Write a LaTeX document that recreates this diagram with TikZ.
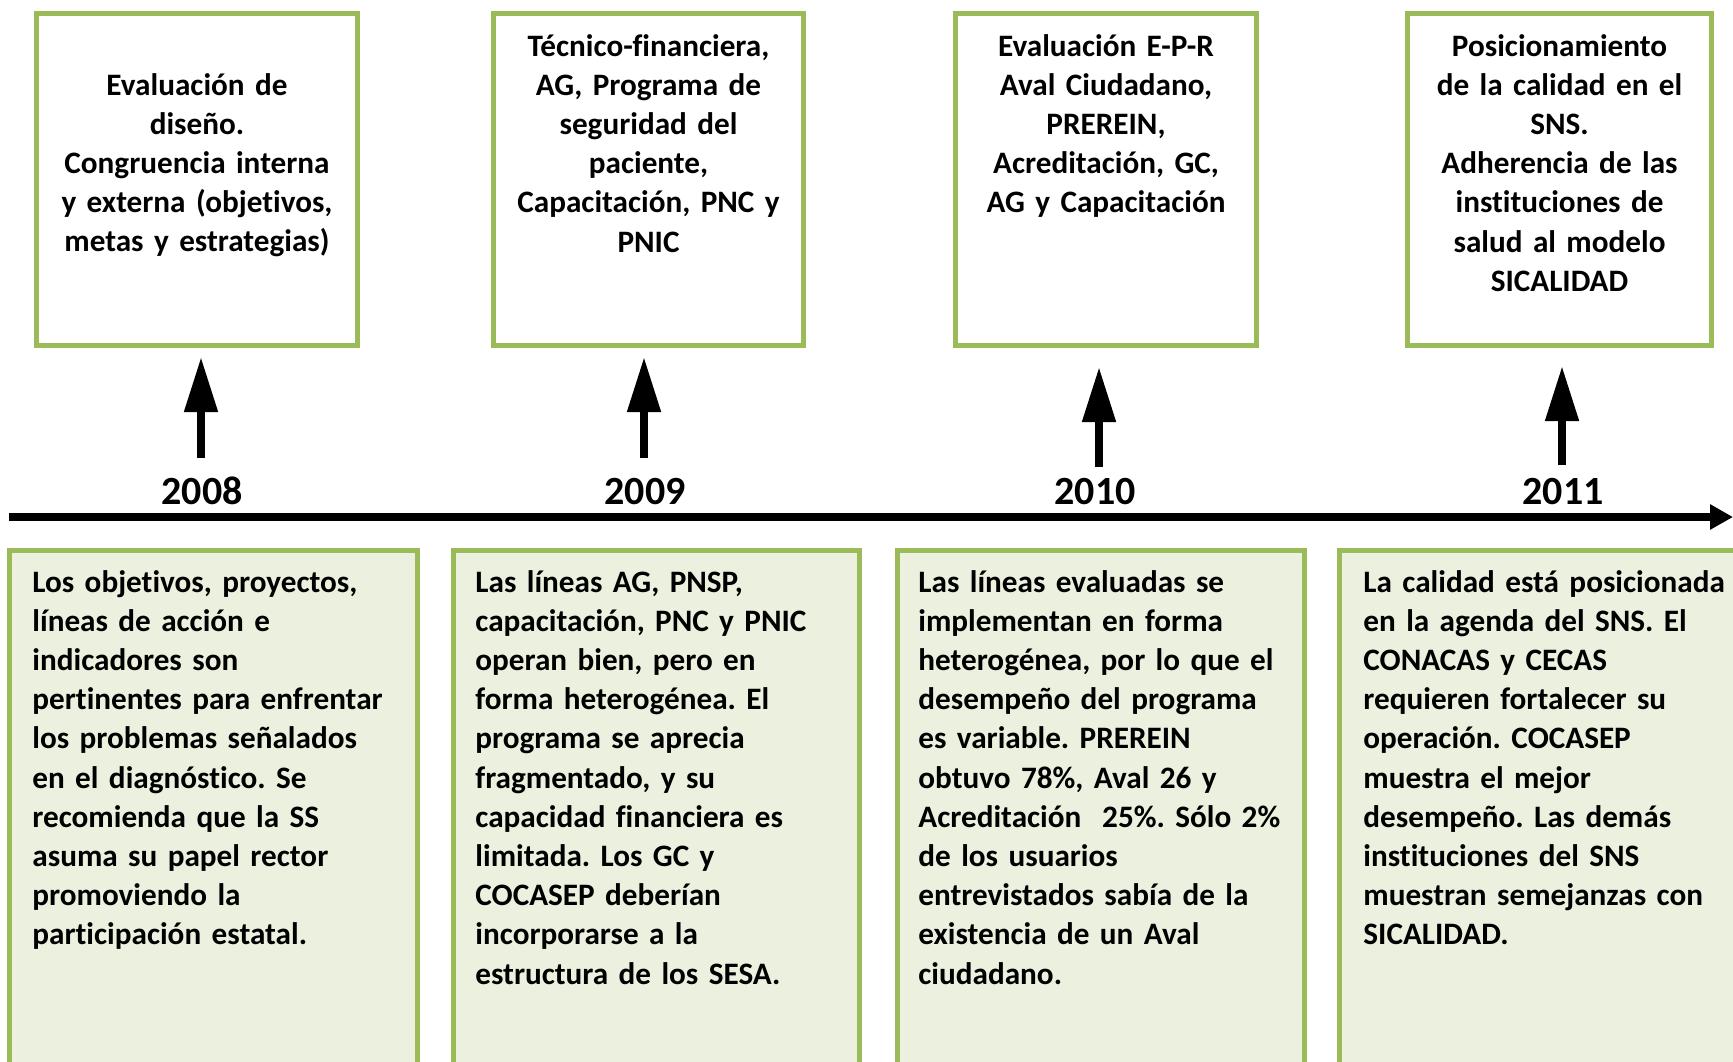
\documentclass[tikz,border=0pt]{standalone}
\usepackage{fontspec}
\setmainfont{Carlito}[Ligatures=NoCommon]
\usetikzlibrary{arrows.meta}
\definecolor{boxgreen}{HTML}{9BBB59}
\definecolor{boxfill}{HTML}{EBF1DE}
\tikzset{
  topbox/.style={draw=boxgreen, line width=2.5pt, fill=white, inner sep=0pt, minimum height=166pt},
  botbox/.style={draw=boxgreen, line width=2.5pt, fill=boxfill, inner sep=0pt, minimum height=275pt},
  toptext/.style={inner sep=0pt, text width=170pt, align=center, anchor=base,
    font={\frenchspacing\fontsize{15.6pt}{19.6pt}\selectfont\bfseries}},
  bottext/.style={inner sep=0pt, text width=200pt, align=left, anchor=base west,
    font={\frenchspacing\fontsize{15.6pt}{19.6pt}\selectfont\bfseries}},
  yeartext/.style={inner sep=0pt, anchor=base, font={\fontsize{20pt}{24pt}\selectfont\bfseries}},
  uparrow/.style={line width=4pt, -{Triangle[length=27.5pt,width=16pt]}},
  timeline/.style={line width=4pt, -{Triangle[length=11.5pt,width=12pt]}}
}
\begin{document}
\begin{tikzpicture}[x=0.5pt,y=-0.5pt]
\clip (0,0) rectangle (1733,1061);
\fill[white] (0,0) rectangle (1733,1061);

% top boxes
\node[topbox, minimum width=160.5pt] (t1) at (197,179.5) {};
\node[topbox, minimum width=155pt] (t2) at (648.5,179.5) {};
\node[topbox, minimum width=150.5pt] (t3) at (1106,179.5) {};
\node[topbox, minimum width=152pt] (t4) at (1559.5,179.5) {};

\node[toptext] (tt1) at (197,95) {Evaluación de\\diseño.\\Congruencia interna\\y externa (objetivos,\\metas y estrategias)};
\node[toptext] (tt2) at (648.5,56) {Técnico-financiera,\\AG, Programa de\\seguridad del\\paciente,\\Capacitación, PNC y\\PNIC};
\node[toptext] (tt3) at (1106,56) {Evaluación E-P-R\\Aval Ciudadano,\\PREREIN,\\Acreditación, GC,\\AG y Capacitación};
\node[toptext] (tt4) at (1559.5,56) {Posicionamiento\\de la calidad en el\\SNS.\\Adherencia de las\\instituciones de\\salud al modelo\\SICALIDAD};

% arrows
\coordinate (a1s) at (201,458); \coordinate (a1e) at (201,357);
\coordinate (a2s) at (644,458); \coordinate (a2e) at (644,357);
\coordinate (a3s) at (1099,467); \coordinate (a3e) at (1099,367);
\coordinate (a4s) at (1562,465); \coordinate (a4e) at (1562,366);
\draw[uparrow] (a1s) -- (a1e);
\draw[uparrow] (a2s) -- (a2e);
\draw[uparrow] (a3s) -- (a3e);
\draw[uparrow] (a4s) -- (a4e);

% years
\node[yeartext] (y1) at (202,504) {2008};
\node[yeartext] (y2) at (645,504) {2009};
\node[yeartext] (y3) at (1095,504) {2010};
\node[yeartext] (y4) at (1563,504) {2011};

% timeline
\coordinate (tl0) at (9,517);
\coordinate (tl1) at (1733,517);
\draw[timeline] (tl0) -- (tl1);

% bottom boxes
\node[botbox, minimum width=204pt] (b1) at (213.5,825) {};
\node[botbox, minimum width=203pt] (b2) at (656.5,825) {};
\node[botbox, minimum width=203.75pt] (b3) at (1101,825) {};
\node[botbox, minimum width=210.25pt] (b4) at (1549.75,825) {};

\node[bottext] (bt1) at (32,592) {Los objetivos, proyectos,\\líneas de acción e\\indicadores son\\pertinentes para enfrentar\\los problemas señalados\\en el diagnóstico. Se\\recomienda que la SS\\asuma su papel rector\\promoviendo la\\participación estatal.};
\node[bottext] (bt2) at (475,592) {Las líneas AG, PNSP,\\capacitación, PNC y PNIC\\operan bien, pero en\\forma heterogénea. El\\programa se aprecia\\fragmentado, y su\\capacidad financiera es\\limitada. Los GC y\\COCASEP deberían\\incorporarse a la\\estructura de los SESA.};
\node[bottext] (bt3) at (918,592) {Las líneas evaluadas se\\implementan en forma\\heterogénea, por lo que el\\desempeño del programa\\es variable. PREREIN\\obtuvo 78\%, Aval 26 y\\Acreditación \ 25\%. Sólo 2\%\\de los usuarios\\entrevistados sabía de la\\existencia de un Aval\\ciudadano.};
\node[bottext] (bt4) at (1363,592) {La calidad está posicionada\\en la agenda del SNS. El\\CONACAS y CECAS\\requieren fortalecer su\\operación. COCASEP\\muestra el mejor\\desempeño. Las demás\\instituciones del SNS\\muestran semejanzas con\\SICALIDAD.};
\end{tikzpicture}
\end{document}
